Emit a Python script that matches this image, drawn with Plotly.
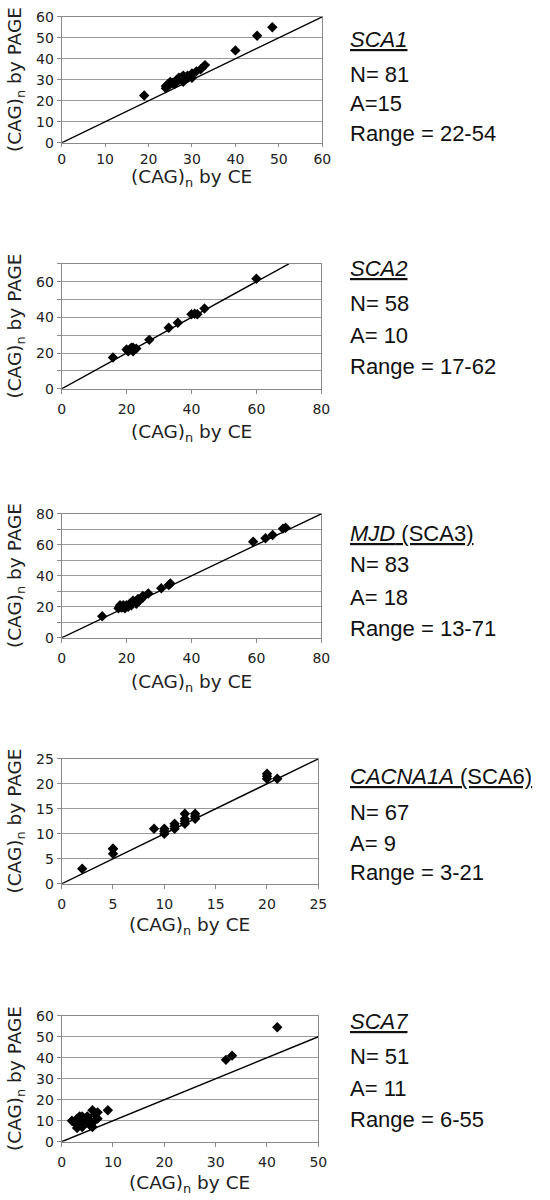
import plotly.graph_objects as go

# ---------------- data ----------------
sca1_ce   = [19, 24, 24, 24.5, 25, 25, 25.5, 26, 26, 26.5, 27, 27, 27.5, 28, 28, 28, 29, 29, 30, 30, 31, 32, 33, 40, 45, 48.5]
sca1_page = [22.5, 26, 27, 28, 28, 29, 28.5, 28, 29, 30, 30, 31, 31, 29, 32, 30, 31, 32, 31, 33, 34, 35, 37, 44, 51, 55]

sca2_ce   = [15.8, 20, 20.5, 21, 21.5, 22, 22, 23, 27, 33, 35.8, 40, 41, 41.8, 44, 60]
sca2_page = [17.5, 22, 21, 22, 23, 21, 23, 22.5, 27.4, 34.2, 37, 41.7, 42, 41.7, 45, 61.6]

mjd_ce   = [12.5, 17.5, 18, 18, 18.5, 19, 19, 19.5, 20, 20.5, 21, 21.5, 22, 22, 23, 23.5, 24, 25, 25, 26.7, 30.7, 33, 33.5, 59, 62.8, 65, 68.2, 69]
mjd_page = [13.9, 19, 20, 21, 19.5, 20, 21, 19, 21, 20, 22, 21, 23, 24, 22, 25, 24, 26, 27, 28.6, 32, 34, 35, 62, 64.2, 66.3, 70.4, 71]

sca6_ce   = [2, 5, 5, 5, 9, 10, 10, 10, 11, 11, 11, 12, 12, 12, 12, 13, 13, 13, 20, 20, 20, 21]
sca6_page = [3, 6, 7, 7, 11, 10, 11, 10.5, 11, 12, 11.5, 12, 13, 14, 12.5, 13, 14, 13.5, 21, 22, 21.5, 21]

sca7_ce   = [2, 2.5, 3, 3, 3, 3.5, 4, 4, 4.5, 5, 5, 5.5, 6, 6, 6.5, 7, 7, 6, 9, 4, 5, 3.5, 5.5, 32, 33.2, 42]
sca7_page = [10, 9, 8, 6.5, 11, 10, 9, 12, 11, 10, 12, 8, 9, 15, 13, 14, 11, 7, 15, 7, 11.5, 12, 10, 39, 41, 54.5]

diag_end = [60, 70, 80, 25, 50]      # identity line y = x, from 0 to this value
x_max    = [60, 80, 80, 25, 50]
y_max    = [60, 70, 80, 25, 60]
x_tick_step = [10, 20, 20, 5, 10]
y_grid_step = [10, 10, 10, 5, 10]
y_label_step = [10, 20, 20, 5, 10]

gene_titles = ["<u><i>SCA1</i></u>", "<u><i>SCA2</i></u>", "<u><i>MJD</i> (SCA3)</u>",
               "<u><i>CACNA1A</i> (SCA6)</u>", "<u><i>SCA7</i></u>"]
n_labels = ["N= 81", "N= 58", "N= 83", "N= 67", "N= 51"]
a_labels = ["A=15", "A= 10", "A= 18", "A= 9", "A= 11"]
range_labels = ["Range = 22-54", "Range = 17-62", "Range = 13-71", "Range = 3-21", "Range = 6-55"]

xs = [sca1_ce, sca2_ce, mjd_ce, sca6_ce, sca7_ce]
ys = [sca1_page, sca2_page, mjd_page, sca6_page, sca7_page]

# ---------------- layout geometry (target pixels in the picture) ----------------
W, H = 550, 1200
boxes = [  # left, right, top, bottom
    (59, 323, 16, 142),
    (59, 322, 263, 388),
    (59, 322, 513, 637),
    (59, 319, 758, 883),
    (59, 319, 1015, 1141),
]
text_y = [
    (39, 74, 103, 133),
    (268, 303, 335, 366),
    (533, 564, 597, 628),
    (776, 812, 843, 872),
    (1021, 1056, 1088, 1119),
]
xtitle_y = [177, 432, 682, 925, 1183]
xlabel_pad = [0, 3, 3, 3, 3]
xticklen = [3, 4, 4, 4, 4]

# small correction for how the page is photographed
SY, OY = 0.9867, 7.2
SX, OX = 0.989, 0.6

def px(x):
    return ((x - OX) / SX) / W

def py(y):
    return 1 - ((y - OY) / SY) / H

fig = go.Figure()
layout = dict(width=W, height=H, margin=dict(l=0, r=0, t=0, b=0),
              paper_bgcolor="white", plot_bgcolor="white", showlegend=False,
              autosize=False)
annotations = []

GRID = "#9a9a9a"
FRAME = "#8a8a8a"
tick_font = dict(family="DejaVu Sans", size=14, color="#222")
title_font = dict(family="DejaVu Sans", size=18.5, color="#222")

for i in range(5):
    l, r, t, b = boxes[i]
    sfx = "" if i == 0 else str(i + 1)
    xa, ya = "x" + sfx, "y" + sfx
    fig.add_trace(go.Scatter(x=[0, diag_end[i]], y=[0, diag_end[i]], mode="lines",
                             line=dict(color="black", width=1.4), xaxis=xa, yaxis=ya,
                             hoverinfo="skip"))
    fig.add_trace(go.Scatter(x=xs[i], y=ys[i], mode="markers",
                             marker=dict(symbol="diamond", size=8, color="black"),
                             xaxis=xa, yaxis=ya))
    xticks = list(range(0, x_max[i] + 1, x_tick_step[i]))
    ygrid = list(range(0, y_max[i] + 1, y_grid_step[i]))
    ylab = list(range(0, y_max[i] + 1, y_label_step[i]))
    layout["xaxis" + sfx] = dict(domain=[px(l), px(r)], range=[0, x_max[i]], anchor=ya,
                                 tickvals=xticks, ticktext=[str(v) for v in xticks],
                                 showgrid=False, zeroline=False, showline=True,
                                 linecolor=FRAME, linewidth=1, mirror=True,
                                 ticks="outside", ticklen=xticklen[i], tickcolor=FRAME,
                                 ticklabelstandoff=xlabel_pad[i],
                                 tickfont=tick_font, fixedrange=True)
    layout["yaxis" + sfx] = dict(domain=[py(b), py(t)], range=[0, y_max[i]], anchor=xa,
                                 tickvals=ylab, ticktext=[str(v) for v in ylab],
                                 showgrid=True, gridcolor=GRID, gridwidth=1,
                                 minor=dict(tickvals=ygrid, showgrid=True, gridcolor=GRID,
                                            gridwidth=1, ticks="outside", ticklen=4,
                                            tickcolor=FRAME),
                                 zeroline=False, showline=True,
                                 linecolor=FRAME, linewidth=1, mirror=True,
                                 ticks="outside", ticklen=4, tickcolor=FRAME,
                                 tickfont=tick_font, fixedrange=True)
    # axis titles
    annotations.append(dict(text="(CAG)<sub>n</sub> by CE", xref="paper", yref="paper",
                            x=px((l + r) / 2), y=py(xtitle_y[i]), showarrow=False,
                            xanchor="center", yanchor="middle", font=title_font))
    annotations.append(dict(text="(CAG)<sub>n</sub> by PAGE", xref="paper", yref="paper",
                            x=px(13), y=py((t + b) / 2), showarrow=False, textangle=-90,
                            xanchor="center", yanchor="middle", font=title_font))
    # right-hand text block
    for txt, yy in zip([gene_titles[i], n_labels[i], a_labels[i], range_labels[i]], text_y[i]):
        annotations.append(dict(text=txt, xref="paper", yref="paper", x=px(349), y=py(yy),
                                showarrow=False, xanchor="left", yanchor="middle",
                                font=dict(family="Liberation Sans", size=22, color="#111")))

layout["annotations"] = annotations
fig.update_layout(**layout)

pin_page = ("document.body.style.margin='0';"
            "var d=document.getElementById('{plot_id}');"
            "d.style.position='absolute';d.style.top='0px';d.style.left='0px';")
fig.write_html("out.html", post_script=pin_page, config={"displayModeBar": False})
